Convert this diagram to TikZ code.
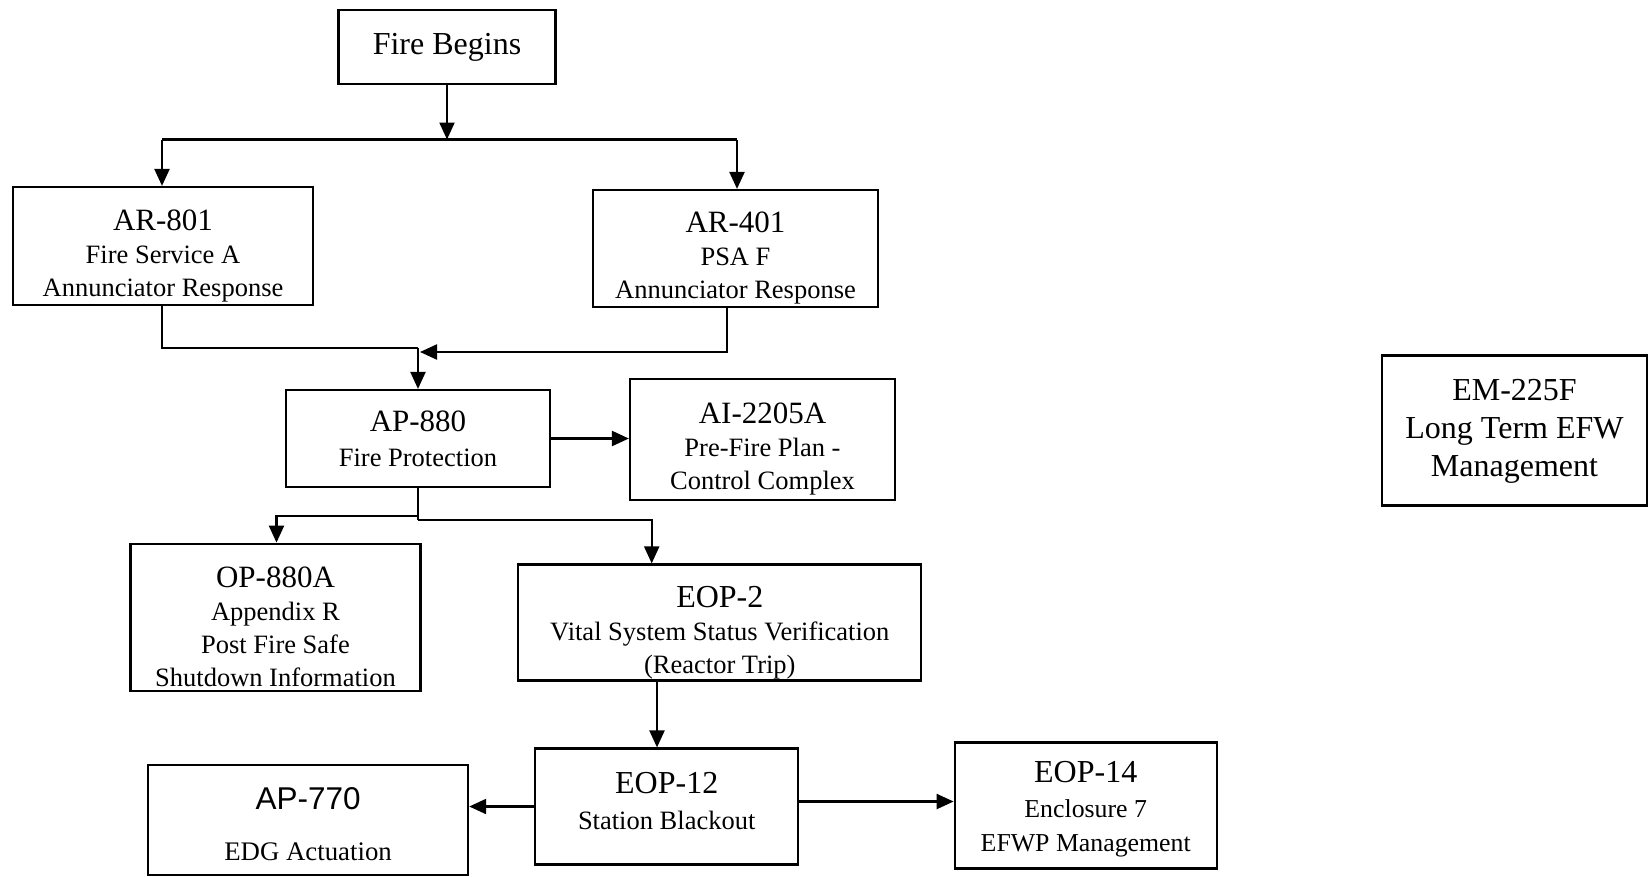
\documentclass[tikz,border=0pt]{standalone}
\usepackage{fontspec}
\setmainfont{Liberation Serif}
\setsansfont{Liberation Sans}
\usetikzlibrary{arrows.meta}
\newcommand{\ttl}{\fontsize{31}{33}\selectfont}
\begin{document}
\begin{tikzpicture}[x=1pt,y=-1pt,
  box/.style={draw,rectangle,line width=2.2pt,inner sep=0pt},
  txt/.style={inner sep=0pt,align=center,font=\fontsize{26.5}{33}\selectfont},
  conn/.style={line width=2.2pt},
  arr/.style={line width=2.2pt,-{Triangle[length=17pt,width=15pt]}}]
\useasboundingbox (0,0) rectangle (1648,876);
\fill[white] (0,0) rectangle (1648,876);
% boxes
\node[box,minimum width=217pt,minimum height=74pt] (fire) at (447,47.3) {};
\node[box,minimum width=300pt,minimum height=118pt] (ar801) at (163,246) {};
\node[box,minimum width=285pt,minimum height=117pt] (ar401) at (735.5,248.5) {};
\node[box,minimum width=264pt,minimum height=97pt] (ap880) at (418,438.5) {};
\node[box,minimum width=265pt,minimum height=121pt] (ai) at (762.5,439.5) {};
\node[box,minimum width=290pt,minimum height=147pt] (op) at (275.5,617.2) {};
\node[box,minimum width=403pt,minimum height=116pt] (eop2) at (719.8,622.5) {};
\node[box,minimum width=263pt,minimum height=116pt] (eop12) at (666.7,806.5) {};
\node[box,minimum width=320pt,minimum height=110pt] (ap770) at (308.1,819.6) {};
\node[box,minimum width=262pt,minimum height=126pt] (eop14) at (1085.7,805.5) {};
\node[box,minimum width=265pt,minimum height=150pt] (em) at (1514.5,430.5) {};
% texts
\node[txt,font=\fontsize{32}{36}\selectfont] (firet) at (fire.center) {Fire Begins};
\node[txt] (ar801t) at ([yshift=-10pt]ar801.center)
  {\ttl AR-801\\Fire Service A\\Annunciator Response};
\node[txt] (ar401t) at ([yshift=-10pt]ar401.center)
  {\ttl AR-401\\PSA F\\Annunciator Response};
\node[txt,font=\fontsize{26.5}{35}\selectfont] (ap880t) at (ap880.center)
  {\fontsize{31}{35}\selectfont AP-880\\Fire Protection};
\node[txt] (ait) at ([yshift=-10pt]ai.center)
  {\ttl AI-2205A\\Pre-Fire Plan -\\Control Complex};
\node[txt] (opt) at ([yshift=-10pt]op.center)
  {\ttl OP-880A\\Appendix R\\Post Fire Safe\\Shutdown Information};
\node[txt] (eop2t) at ([yshift=-10pt]eop2.center)
  {\fontsize{32}{33}\selectfont EOP-2\\Vital System Status Verification\\(Reactor Trip)};
\node[txt,font=\fontsize{26.5}{36}\selectfont] (eop12t) at ([yshift=5pt]eop12.center)
  {\fontsize{32}{36}\selectfont EOP-12\\Station Blackout};
\node[txt,font=\fontsize{26.8}{50.5}\selectfont] (ap770t) at ([yshift=-4.5pt]ap770.center)
  {\fontsize{31.5}{50.5}\selectfont\sffamily AP-770\\EDG Actuation};
\node[txt,font=\fontsize{25.8}{34.5}\selectfont] (eop14t) at ([yshift=-4pt]eop14.center)
  {\fontsize{32}{34.5}\selectfont EOP-14\\Enclosure 7\\EFWP Management};
\node[txt,font=\fontsize{32}{38}\selectfont] (emt) at ([yshift=-1pt]em.center)
  {EM-225F\\Long Term EFW\\Management};
% junction coordinates
\coordinate (j1) at (447,139.5);
\coordinate (jl) at (162,139.5);
\coordinate (jr) at (737,139.5);
\coordinate (m1) at (418,348);
\coordinate (m2) at (420,352);
\coordinate (a401) at (726.7,306);
\coordinate (b1) at (418,516);
\coordinate (b2) at (418,520);
\coordinate (xop) at (276.5,0);
\coordinate (xe2) at (651.7,0);
\coordinate (x657) at (657,0);
% connectors
\draw[arr] (fire.south) -- (j1);
\draw[arr] (jl) -- (jl |- ar801.north);
\draw[conn] (jl) -- (jr);
\draw[arr] (jr) -- (jr |- ar401.north);
\draw[conn] (ar801.south -| jl) |- (m1);
\draw[arr] (ar401.south -| a401) |- (m2);
\draw[arr] (m1) -- (ap880.north);
\draw[arr] (ap880.east) -- (ap880.east -| ai.west);
\draw[conn] (ap880.south) -- (b2);
\draw[arr] (b1) -| (op.north -| xop);
\draw[arr] (b2) -| (eop2.north -| xe2);
\draw[arr] (eop2.south -| x657) -- (eop12.north -| x657);
\draw[arr] (eop12.west) -- (eop12.west -| ap770.east);
\draw[arr] ([yshift=5pt]eop12.east) -- ([yshift=5pt]eop12.east -| eop14.west);
\end{tikzpicture}
\end{document}
